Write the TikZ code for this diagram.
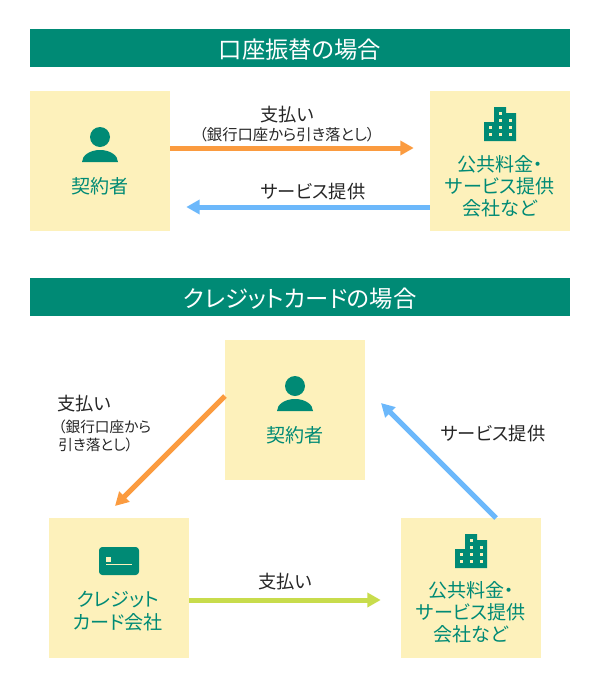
\documentclass[tikz,border=0pt]{standalone}
\usepackage{fontspec}
\usepackage{tikz}
\usetikzlibrary{arrows.meta}
\setmainfont[RawFeature=+palt]{Noto Sans CJK JP}
\definecolor{tealgreen}{HTML}{008A75}
\definecolor{boxyellow}{HTML}{FDF1BB}
\definecolor{payorange}{HTML}{FB9B3F}
\definecolor{svcblue}{HTML}{6CB8FB}
\definecolor{cardgreen}{HTML}{C8DC4C}
\newcommand{\personicon}[1]{
\begin{scope}[shift={(#1)}]
	\fill[tealgreen] (0,-24) circle (10);
	\fill[tealgreen] (-18,1) arc[start angle=180,end angle=360,x radius=18,y radius=12] -- cycle;
\end{scope}
}
\newcommand{\buildingicon}[1]{
\begin{scope}[shift={(#1)}]
	\fill[tealgreen] (-16,50) -- (-16,31) -- (-6,31) -- (-6,16) -- (6,16) -- (6,22) -- (16,22) -- (16,50) -- cycle;
	\foreach \wx/\wy in {0/22,0/29,10/29,-10/36,0/36,10/36,-10/43,0/43,10/43}
		\fill[boxyellow] (\wx-1.5,\wy-1.5) rectangle (\wx+1.5,\wy+1.5);
\end{scope}
}
\begin{document}
\begin{tikzpicture}[x=0.75pt,y=-0.75pt]
\tikzstyle{headbar}=[fill=tealgreen,text=white,minimum width=405pt,minimum height=28.5pt,inner sep=0pt,font=\fontsize{17.5}{20}\selectfont];
\tikzstyle{headtext}=[text=white,inner sep=0pt,font=\fontsize{17.5}{20}\selectfont];
\tikzstyle{partybox}=[fill=boxyellow,minimum size=105pt,inner sep=0pt];
\tikzstyle{partylabel}=[text=tealgreen,align=center,inner sep=0pt,font=\fontsize{14.3}{16.5}\selectfont];
\tikzstyle{flowlabel}=[text=black!85,inner sep=0pt,font=\fontsize{13.7}{15}\selectfont];
\tikzstyle{smalllabel}=[text=black!85,inner sep=0pt,align=left,font=\fontsize{11}{13.5}\selectfont];
\tikzstyle{flow}=[line width=3.75pt,-{Triangle[length=10pt,width=10.5pt]}];
\useasboundingbox (0,0) rectangle (600,686);

\node[headbar] (head1) at (300,48) {};
\node[headtext] (head1text) at (300,50) {口座振替の場合};
\node[partybox] (user1) at (100,161) {};
\node[partybox] (firm1) at (500,161) {};
\personicon{100,161}
\buildingicon{500,91}
\node[partylabel] (user1text) at (100,186) {契約者};
\node[partylabel] (firm1text) at (500,186) {公共料金・\\サービス提供\\会社など};
\node[flowlabel] (pay1) at (287,115) {支払い};
\node[smalllabel,font=\fontsize{11.5}{13.5}\selectfont] (pay1note) at (287,135) {（銀行口座から引き落とし）};
\node[flowlabel] (svc1) at (313,192) {サービス提供};
\draw[flow,payorange,shorten >=12pt] ([yshift=9.75pt]user1.east) -- ([yshift=9.75pt]firm1.west);
\draw[flow,svcblue,shorten >=12pt] ([yshift=-34.5pt]firm1.west) -- ([yshift=-34.5pt]user1.east);

\node[headbar] (head2) at (300,297) {};
\node[headtext] (head2text) at (300,298.5) {クレジットカードの場合};
\node[partybox] (user2) at (295,410) {};
\node[partybox] (card2) at (119,588) {};
\node[partybox] (firm2) at (471,588) {};
\personicon{295,410}
\buildingicon{471,518}
\fill[tealgreen,rounded corners=2.5pt] (99,547) rectangle (139,575);
\fill[boxyellow] (106,557) rectangle (111,562);
\fill[boxyellow] (106,563.5) rectangle (132,564.8);
\node[partylabel] (user2text) at (295,435) {契約者};
\node[partylabel,font=\fontsize{14.3}{17.2}\selectfont] (card2text) at (118,611) {クレジット\\カード会社};
\node[partylabel] (firm2text) at (471,612) {公共料金・\\サービス提供\\会社など};
\node[flowlabel] (pay2) at (84,404) {支払い};
\node[smalllabel,anchor=north west] (pay2note) at (58,420) {（銀行口座から\\引き落とし）};
\node[flowlabel] (pay3) at (285,582) {支払い};
\node[flowlabel] (svc2) at (493,434) {サービス提供};
\coordinate (cardtop) at (103,518);
\coordinate (usertop) at (225,396);
\coordinate (firmtop) at (496,518);
\coordinate (userside) at (365,387);
\draw[flow,payorange,shorten >=12.75pt] (usertop) -- (cardtop);
\draw[flow,svcblue,shorten >=17pt] (firmtop) -- (userside);
\draw[flow,cardgreen,shorten >=15pt] (card2.east |- 0,600) -- (firm2.west |- 0,600);
\end{tikzpicture}
\end{document}
